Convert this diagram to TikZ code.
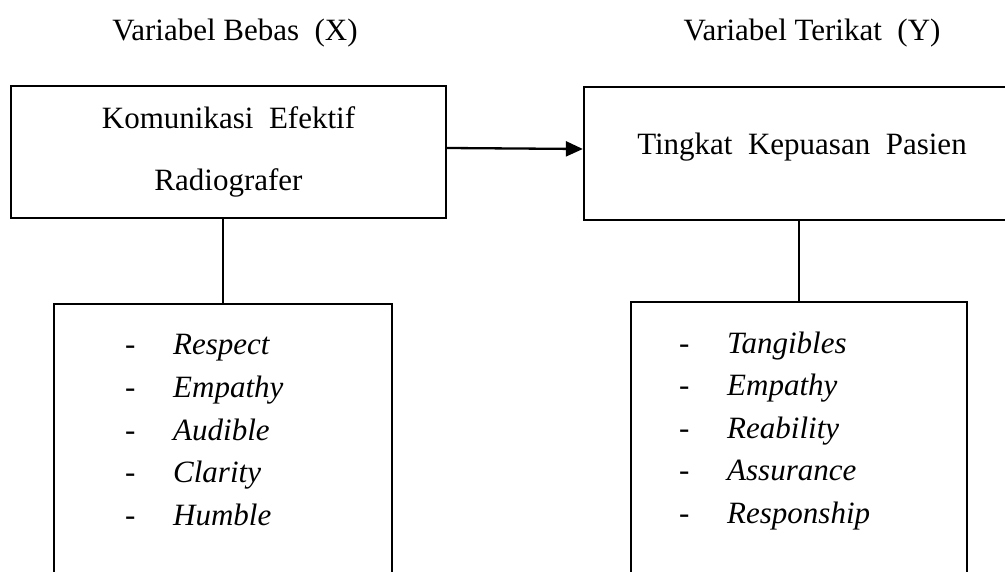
\documentclass[tikz,border=0pt]{standalone}
\usepackage{fontspec}
\setmainfont{Liberation Serif}
\usetikzlibrary{arrows.meta}
\tikzset{
  kotak/.style={draw, line width=2.3pt, inner sep=0pt},
  garis/.style={line width=2.3pt},
  butir/.style={anchor=base west, inner sep=0pt, font=\fontsize{31}{37}\selectfont\itshape},
  strip/.style={anchor=base west, inner sep=0pt}
}
\begin{document}
\begin{tikzpicture}[x=1pt,y=-1pt, font=\fontsize{31}{37}\selectfont]
  \useasboundingbox (0,0) rectangle (1005,572);
  \clip (0,0) rectangle (1005,572);
  \def\dy{42.5}
  % judul kolom
  \node (hx) at (235,33) {Variabel Bebas\ \ (X)};
  \node (hy) at (812,33) {Variabel Terikat\ \ (Y)};
  % kotak atas
  \node[kotak, minimum width=435pt, minimum height=132pt, align=center,
        font=\fontsize{31}{62}\selectfont] (kom) at (228.5,152) {Komunikasi\ \ Efektif\\Radiografer};
  \node[kotak, minimum width=436pt, minimum height=133pt, text depth=20pt] (pua) at (802,153.5)
        {Tingkat\ \ Kepuasan\ \ Pasien};
  % kotak indikator
  \node[kotak, minimum width=338pt, minimum height=300pt, anchor=north] (indx) at (223,303) {};
  \node[kotak, minimum width=336pt, minimum height=300pt, anchor=north] (indy) at (799,301) {};
  % penghubung
  \draw[garis] (kom.south -| indx.north) -- (indx.north);
  \draw[garis] (pua.south -| indy.north) -- (indy.north);
  \draw[garis,-{Triangle[length=17pt,width=15pt]}] ([yshift=4pt]kom.east) -- ([yshift=4.5pt]pua.west);
  % daftar indikator
  \foreach \t [count=\i] in {Respect,Empathy,Audible,Clarity,Humble}{
    \node[strip] (sx\i) at (125,355+\dy*\i-\dy) {-};
    \node[butir] (bx\i) at (173,355+\dy*\i-\dy) {\t};
  }
  \foreach \t [count=\i] in {Tangibles,Empathy,Reability,Assurance,Responship}{
    \node[strip] (sy\i) at (679,353+\dy*\i-\dy) {-};
    \node[butir] (by\i) at (727,353+\dy*\i-\dy) {\t};
  }
\end{tikzpicture}
\end{document}
